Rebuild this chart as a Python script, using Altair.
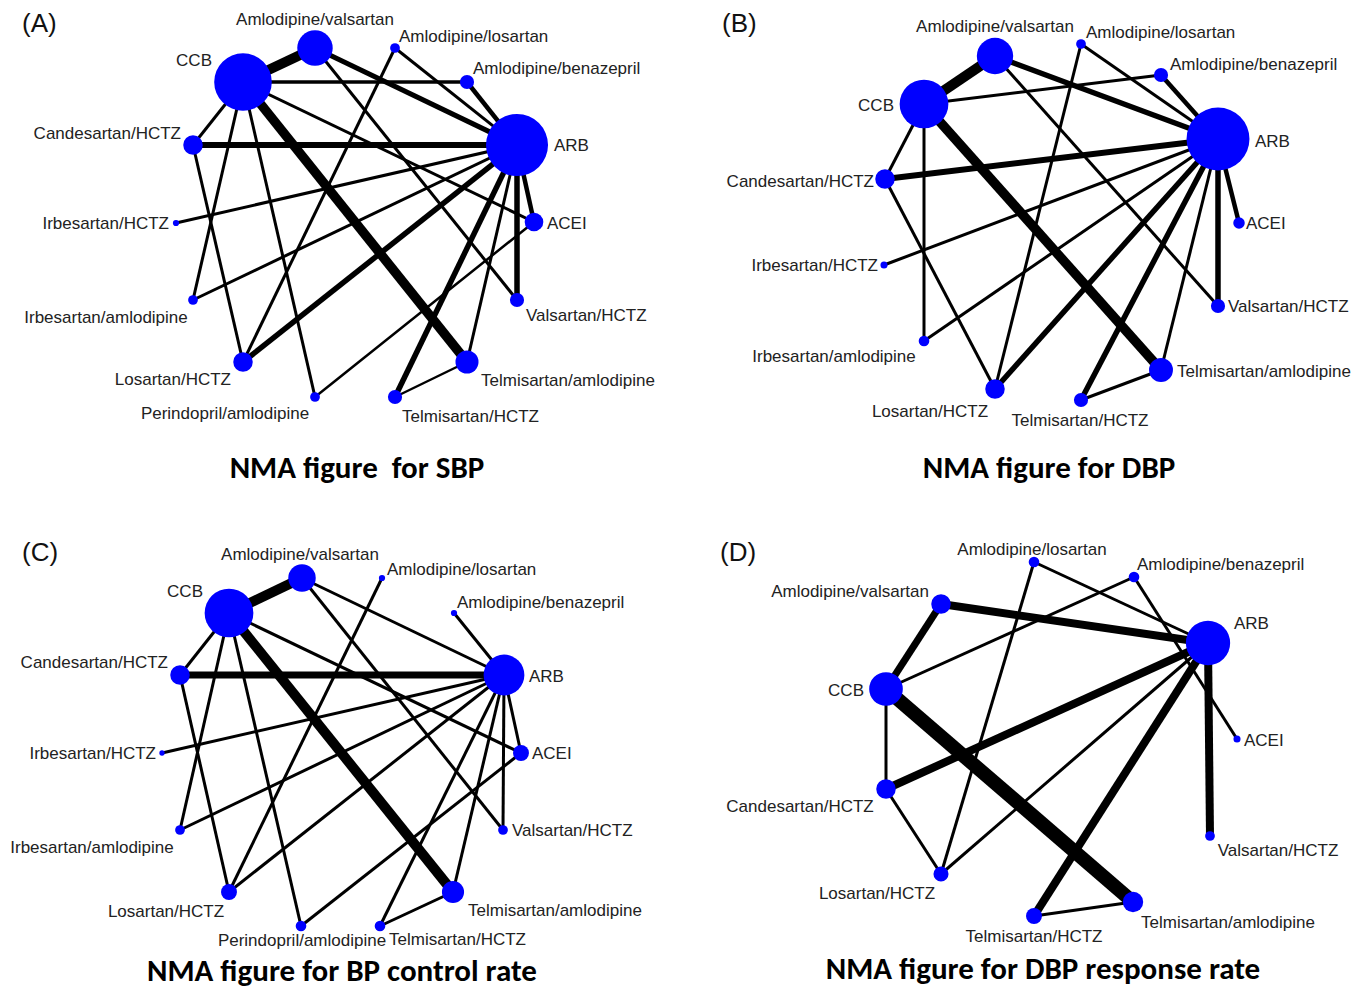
import math
import altair as alt
import pandas as pd

# ---------------- data -----------------
PANELS = ["A", "B", "C", "D"]
PANEL_LETTERS = ["(A)", "(B)", "(C)", "(D)"]
TITLES = ["NMA figure \u00a0for SBP", "NMA figure for DBP",
          "NMA figure for BP control rate", "NMA figure for DBP response rate"]

# Panel A nodes (layout position, node radius ~ sample size)
A_NODES = ["CCB", "Amlodipine/valsartan", "Amlodipine/losartan", "Amlodipine/benazepril",
           "ARB", "Candesartan/HCTZ", "Irbesartan/HCTZ", "ACEI", "Irbesartan/amlodipine",
           "Valsartan/HCTZ", "Losartan/HCTZ", "Telmisartan/amlodipine",
           "Perindopril/amlodipine", "Telmisartan/HCTZ"]
A_X = [243, 315, 395, 467, 517, 193, 176, 534, 193, 517, 243, 467, 315, 395]
A_Y = [82, 48, 48, 82, 145, 145, 223, 222, 300, 300, 362, 362, 397, 397]
A_R = [32.5, 20, 5.5, 8, 35, 11, 3.5, 10.5, 5.5, 8, 11, 13, 5.5, 8]
A_EDGES = [("CCB", "Amlodipine/valsartan"), ("CCB", "Amlodipine/benazepril"), ("CCB", "ACEI"),
           ("CCB", "Telmisartan/amlodipine"), ("CCB", "Candesartan/HCTZ"),
           ("CCB", "Irbesartan/amlodipine"), ("CCB", "Perindopril/amlodipine"),
           ("Amlodipine/valsartan", "ARB"), ("Amlodipine/valsartan", "Valsartan/HCTZ"),
           ("Amlodipine/losartan", "ARB"), ("Amlodipine/losartan", "Losartan/HCTZ"),
           ("Amlodipine/benazepril", "ARB"), ("Candesartan/HCTZ", "ARB"),
           ("Candesartan/HCTZ", "Losartan/HCTZ"), ("ARB", "Irbesartan/HCTZ"), ("ARB", "ACEI"),
           ("ARB", "Valsartan/HCTZ"), ("ARB", "Losartan/HCTZ"), ("ARB", "Telmisartan/HCTZ"),
           ("ARB", "Telmisartan/amlodipine"), ("ARB", "Irbesartan/amlodipine"),
           ("ACEI", "Perindopril/amlodipine"), ("Telmisartan/HCTZ", "Telmisartan/amlodipine")]
A_W = [10, 3.5, 3, 9.5, 3, 3, 3, 5, 3, 3, 3, 4.5, 6, 3, 3, 4.5, 5.5, 5.5, 5.5, 3, 3, 2.5, 2.5]

# Panel B
B_NODES = ["CCB", "Amlodipine/valsartan", "Amlodipine/losartan", "Amlodipine/benazepril",
           "ARB", "Candesartan/HCTZ", "ACEI", "Irbesartan/HCTZ", "Valsartan/HCTZ",
           "Irbesartan/amlodipine", "Telmisartan/amlodipine", "Losartan/HCTZ", "Telmisartan/HCTZ"]
B_X = [924, 995, 1081, 1161, 1218, 885, 1239, 884, 1218, 924, 1161, 995, 1081]
B_Y = [104, 56, 44, 75, 139, 179, 223, 265, 306, 341, 370, 389, 400]
B_R = [27.5, 20.5, 5.5, 8, 35.5, 11, 6.5, 4, 8, 6, 13.5, 11, 8]
B_EDGES = [("CCB", "Amlodipine/valsartan"), ("Amlodipine/valsartan", "ARB"),
           ("CCB", "Amlodipine/benazepril"), ("Amlodipine/losartan", "ARB"),
           ("Amlodipine/losartan", "Losartan/HCTZ"), ("Amlodipine/benazepril", "ARB"),
           ("Candesartan/HCTZ", "ARB"), ("CCB", "Candesartan/HCTZ"),
           ("CCB", "Irbesartan/amlodipine"), ("CCB", "Telmisartan/amlodipine"),
           ("Amlodipine/valsartan", "Valsartan/HCTZ"), ("Candesartan/HCTZ", "Losartan/HCTZ"),
           ("Irbesartan/HCTZ", "ARB"), ("Irbesartan/amlodipine", "ARB"), ("ARB", "Losartan/HCTZ"),
           ("ARB", "Telmisartan/HCTZ"), ("ARB", "Telmisartan/amlodipine"),
           ("ARB", "Valsartan/HCTZ"), ("ARB", "ACEI"), ("Telmisartan/HCTZ", "Telmisartan/amlodipine")]
B_W = [10, 5.5, 3, 3, 3, 4.5, 6, 3, 3, 9.5, 3, 3, 3, 3, 5.5, 5.5, 3, 5.5, 4.5, 3]

# Panel C
C_NODES = ["CCB", "Amlodipine/valsartan", "Amlodipine/losartan", "Amlodipine/benazepril",
           "ARB", "Candesartan/HCTZ", "Irbesartan/HCTZ", "ACEI", "Irbesartan/amlodipine",
           "Valsartan/HCTZ", "Losartan/HCTZ", "Telmisartan/amlodipine",
           "Perindopril/amlodipine", "Telmisartan/HCTZ"]
C_X = [229, 302, 382, 454, 504, 180, 162, 521, 180, 503, 229, 453, 301, 380]
C_Y = [613, 578, 578, 613, 675, 675, 753, 753, 830, 830, 892, 892, 926, 926]
C_R = [27.5, 15.5, 3.5, 3.5, 23, 11, 3, 9, 5.5, 5.5, 9, 12.5, 6, 6]
C_EDGES = [("CCB", "Amlodipine/valsartan"), ("Amlodipine/valsartan", "ARB"),
           ("Amlodipine/valsartan", "Valsartan/HCTZ"), ("Amlodipine/losartan", "Losartan/HCTZ"),
           ("Amlodipine/benazepril", "ARB"), ("Candesartan/HCTZ", "ARB"),
           ("CCB", "Candesartan/HCTZ"), ("CCB", "Irbesartan/amlodipine"),
           ("CCB", "Perindopril/amlodipine"), ("Candesartan/HCTZ", "Losartan/HCTZ"),
           ("CCB", "Telmisartan/amlodipine"), ("CCB", "ACEI"), ("Irbesartan/HCTZ", "ARB"),
           ("ARB", "Irbesartan/amlodipine"), ("ARB", "Losartan/HCTZ"),
           ("ACEI", "Perindopril/amlodipine"), ("ARB", "Telmisartan/HCTZ"),
           ("ARB", "Telmisartan/amlodipine"), ("Telmisartan/HCTZ", "Telmisartan/amlodipine"),
           ("ARB", "Valsartan/HCTZ"), ("ARB", "ACEI")]
C_W = [10, 3, 3, 3, 3, 7, 3, 3, 3, 3, 10, 3, 3, 3, 3, 3, 3, 3, 3, 3, 3]

# Panel D
D_NODES = ["Amlodipine/losartan", "Amlodipine/benazepril", "Amlodipine/valsartan", "ARB",
           "CCB", "ACEI", "Candesartan/HCTZ", "Valsartan/HCTZ", "Losartan/HCTZ",
           "Telmisartan/amlodipine", "Telmisartan/HCTZ"]
D_X = [1034, 1134, 941, 1208, 886, 1237, 886, 1210, 941, 1133, 1034]
D_Y = [562, 577, 604, 643, 689, 739, 789, 836, 874, 902, 916]
D_R = [6, 6, 11, 25, 19, 4, 11, 5.5, 8.5, 11.5, 9]
D_EDGES = [("Amlodipine/losartan", "ARB"), ("Amlodipine/losartan", "Losartan/HCTZ"),
           ("Amlodipine/benazepril", "CCB"), ("Amlodipine/benazepril", "ACEI"),
           ("Amlodipine/valsartan", "ARB"), ("Amlodipine/valsartan", "CCB"),
           ("Candesartan/HCTZ", "ARB"), ("CCB", "Telmisartan/amlodipine"),
           ("CCB", "Candesartan/HCTZ"), ("Candesartan/HCTZ", "Losartan/HCTZ"),
           ("Losartan/HCTZ", "ARB"), ("ARB", "Telmisartan/HCTZ"), ("ARB", "Valsartan/HCTZ"),
           ("Telmisartan/HCTZ", "Telmisartan/amlodipine")]
D_W = [3, 3, 3, 3, 8, 7, 8, 14, 3, 3, 3, 8, 8, 3]

# ---------------- label layout -----------------
A_LX = [212, 315, 399, 473, 554, 181, 169, 547, 106, 526, 231, 481, 225, 402]
A_LY = [61, 20, 37, 69, 146, 134, 224, 224, 318, 316, 380, 381, 414, 417]
A_AL = ["right", "center", "left", "left", "left", "right", "right", "left", "center",
        "left", "right", "left", "center", "left"]
B_LX = [894, 995, 1086, 1170, 1255, 874, 1246, 878, 1228, 834, 1177, 930, 1080]
B_LY = [106, 27, 33, 65, 142, 182, 224, 266, 307, 357, 372, 412, 421]
B_AL = ["right", "center", "left", "left", "left", "right", "left", "right", "left",
        "center", "left", "center", "center"]
C_LX = [203, 300, 387, 457, 529, 168, 156, 532, 92, 512, 166, 468, 302, 389]
C_LY = [592, 555, 570, 603, 677, 663, 754, 754, 848, 831, 912, 911, 941, 940]
C_AL = ["right", "center", "left", "left", "left", "right", "right", "left", "center",
        "left", "center", "left", "center", "left"]
D_LX = [1032, 1137, 929, 1234, 864, 1244, 800, 1278, 877, 1228, 1034]
D_LY = [550, 565, 592, 624, 691, 741, 807, 851, 894, 923, 937]
D_AL = ["center", "left", "right", "left", "right", "left", "center", "center", "center",
        "center", "center"]

TITLE_X = [357, 1049, 342, 1043]
TITLE_Y = [469, 469, 972, 970]
LETTER_X = [22, 722, 22, 720]
LETTER_Y = [24, 24, 553, 553]

# ---------------- build tables -----------------
spec = {
    "A": (A_NODES, A_X, A_Y, A_R, A_EDGES, A_W, A_LX, A_LY, A_AL),
    "B": (B_NODES, B_X, B_Y, B_R, B_EDGES, B_W, B_LX, B_LY, B_AL),
    "C": (C_NODES, C_X, C_Y, C_R, C_EDGES, C_W, C_LX, C_LY, C_AL),
    "D": (D_NODES, D_X, D_Y, D_R, D_EDGES, D_W, D_LX, D_LY, D_AL),
}
node_rows, edge_rows = [], []
for p in PANELS:
    names, xs_, ys_, rs, edges, ws, lxs, lys, als = spec[p]
    pos = {}
    for n, x, y, r, lx, ly, al in zip(names, xs_, ys_, rs, lxs, lys, als):
        pos[n] = (x, y)
        node_rows.append(dict(panel=p, name=n, x=x, y=y, area=math.pi * r * r,
                              lx=lx, ly=ly, align=al))
    for (a, b), w in zip(edges, ws):
        edge_rows.append(dict(panel=p, x=pos[a][0], y=pos[a][1],
                              x2=pos[b][0], y2=pos[b][1], w=w))
ndf = pd.DataFrame(node_rows)
edf = pd.DataFrame(edge_rows)
tdf = pd.DataFrame(dict(text=TITLES, x=TITLE_X, y=TITLE_Y))
ldf = pd.DataFrame(dict(text=PANEL_LETTERS, x=LETTER_X, y=LETTER_Y))

xs = alt.Scale(domain=[8, 1356], nice=False, zero=False)
ys = alt.Scale(domain=[8, 989], nice=False, zero=False, reverse=True)

def X(f):
    return alt.X(f, type="quantitative", scale=xs, axis=None)

def Y(f):
    return alt.Y(f, type="quantitative", scale=ys, axis=None)

edges = alt.Chart(edf).mark_rule(color="black").encode(
    x=X("x"), y=Y("y"), x2="x2", y2="y2",
    strokeWidth=alt.StrokeWidth("w:Q", scale=None, legend=None))

nodes = alt.Chart(ndf).mark_circle(color="#0000ff", opacity=1).encode(
    x=X("x"), y=Y("y"), size=alt.Size("area:Q", scale=None, legend=None))

label_layers = []
for al in ["left", "center", "right"]:
    label_layers.append(
        alt.Chart(ndf[ndf["align"] == al]).mark_text(
            align=al, baseline="middle", font="Liberation Sans", fontSize=17,
            color="#222222").encode(x=X("lx"), y=Y("ly"), text="name:N"))

titles = alt.Chart(tdf).mark_text(
    align="center", baseline="middle", font="Carlito, Lato", fontWeight="bold",
    fontSize=31, color="black").encode(x=X("x"), y=Y("y"), text="text:N")

letters = alt.Chart(ldf).mark_text(
    align="left", baseline="middle", font="Liberation Sans", fontSize=26,
    color="#111111").encode(x=X("x"), y=Y("y"), text="text:N")

chart = alt.layer(edges, nodes, *label_layers, titles, letters).properties(
    width=1348, height=981, padding=0,
    autosize=alt.AutoSizeParams(type="none"),
    background="white",
).configure_view(stroke=None)

chart.save("out.html", embed_options={"renderer": "svg", "actions": False})
